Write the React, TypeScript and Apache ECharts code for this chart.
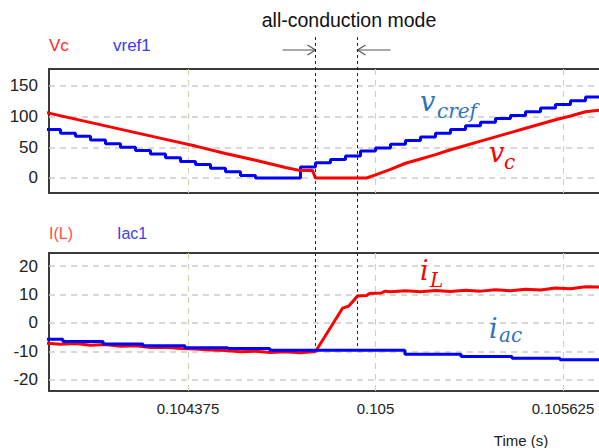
import React, { useEffect, useRef } from "react";
import * as echarts from "echarts";

// ---- axis ticks ----
const xTicks = [0.104375, 0.105, 0.105625];
const topTicks = [0, 50, 100, 150];
const bottomTicks = [-20, -10, 0, 10, 20];

// ---- top panel: Vc and vref1 ----
const vcTime = [
  0.1039, 0.104, 0.1041, 0.1042, 0.1043, 0.1044, 0.1045, 0.1046, 0.1047, 0.10475,
  0.10479, 0.1048, 0.10485, 0.1049, 0.10495, 0.10497, 0.105, 0.10505, 0.1051, 0.10515,
  0.1052, 0.10525, 0.1053, 0.10535, 0.1054, 0.10545, 0.1055, 0.10555, 0.1056, 0.10565,
  0.1057, 0.10578,
];
const vc = [
  107, 96, 85, 74, 63, 52, 40, 29, 17, 12,
  12, 0, 0, 0, 0, 0, 5, 14, 24, 31,
  38, 46, 53, 60, 67, 74, 81, 88, 95, 101,
  108, 112,
];

const vrefTime = [
  0.1039, 0.10395, 0.104, 0.10405, 0.1041, 0.10415, 0.1042, 0.10425, 0.1043, 0.10435,
  0.1044, 0.10445, 0.1045, 0.10455, 0.1046, 0.10465, 0.1047, 0.10475, 0.1048, 0.10485,
  0.1049, 0.10495, 0.105, 0.10505, 0.1051, 0.10515, 0.1052, 0.10525, 0.1053, 0.10535,
  0.1054, 0.10545, 0.1055, 0.10555, 0.1056, 0.10565, 0.1057, 0.10578,
];
const vref1 = [
  79, 73, 68, 62, 56, 50, 45, 39, 33, 27,
  22, 16, 10, 4, 0, 0, 0, 18, 25, 30,
  36, 44, 49, 55, 61, 67, 73, 79, 85, 91,
  97, 102, 108, 114, 120, 126, 132, 132,
];

// ---- bottom panel: I(L) and Iac1 ----
const ilTime = [
  0.1039, 0.10395, 0.104, 0.10405, 0.1041, 0.10415, 0.1042, 0.10425, 0.1043, 0.10435,
  0.1044, 0.10445, 0.1045, 0.10455, 0.1046, 0.10465, 0.1047, 0.10475, 0.1048, 0.10483,
  0.10486, 0.10489, 0.10491, 0.10492, 0.10494, 0.10497, 0.10498, 0.10502, 0.10503, 0.10505,
  0.1051, 0.10515, 0.1052, 0.10525, 0.1053, 0.10535, 0.1054, 0.10545, 0.1055, 0.10555,
  0.1056, 0.10565, 0.1057, 0.10578,
];
const il = [
  -7.1, -7.5, -7.2, -7.8, -7.6, -8.2, -8.0, -8.6, -8.5, -9.0,
  -9.1, -9.5, -9.7, -10.1, -9.9, -10.4, -10.1, -10.5, -10.0, -5.0,
  0.1, 5.2, 5.9, 7.0, 9.5, 9.7, 10.4, 10.5, 11.2, 11.0,
  11.3, 11.0, 11.4, 11.1, 11.5, 11.2, 11.7, 11.3, 11.9, 11.6,
  12.3, 12.0, 12.7, 12.6,
];

const iacTime = [
  0.1039, 0.103958, 0.104092, 0.104225, 0.104365, 0.104508, 0.104648, 0.105098, 0.105285,
  0.105455, 0.105615, 0.10578,
];
const iac1 = [-5.7, -6.5, -7.4, -8.0, -8.7, -9.0, -9.6, -11.0, -11.8, -12.4, -12.9, -12.9];

// ---- annotation times (mode boundaries) ----
const modeTimes = [0.1048, 0.10494];

const zip = (t: number[], v: number[]) => t.map((x, i) => [x, v[i]]);

const RED = "#ff0000";
const BLUE = "#0000ff";
const MATH_BLUE = "#2e75b6";

export default function App() {
  const ref = useRef<HTMLDivElement>(null);

  useEffect(() => {
    const chart = echarts.init(ref.current!, null, { renderer: "svg" });
    const xMin = 0.1039117;
    const xMax = 0.1057783;
    const gridCommon = {
      left: 49,
      width: 560,
      show: true,
      borderColor: "#3a3a3a",
      borderWidth: 2,
      containLabel: false,
      outerBoundsMode: "none",
    };
    const hSplit = { show: true, lineStyle: { color: "#cccccc", type: [6, 5], width: 1.5 } };
    const vSplit = { show: true, lineStyle: { color: "#c5d6b0", type: [6, 5], width: 1 } };
    const xAxisBase = (gi: number, showLabel: boolean) => ({
      type: "value",
      gridIndex: gi,
      min: xMin,
      max: xMax,
      axisLine: { show: false },
      axisTick: { show: false, customValues: xTicks },
      axisLabel: {
        show: showLabel,
        customValues: xTicks,
        formatter: (v: number) => String(+v.toFixed(6)),
        fontFamily: "Liberation Sans",
        fontSize: 15,
        color: "#222",
        margin: 10,
      },
      splitLine: vSplit,
    });
    const yAxisBase = (gi: number, min: number, max: number, ticks: number[]) => ({
      type: "value",
      gridIndex: gi,
      min,
      max,
      axisLine: { show: false },
      axisTick: { show: false, customValues: ticks },
      axisLabel: {
        customValues: ticks,
        fontFamily: "Liberation Sans",
        fontSize: 17,
        color: "#222",
        margin: 11,
      },
      splitLine: hSplit,
    });

    chart.setOption({
      animation: false,
      grid: [
        { ...gridCommon, top: 69, height: 124 },
        { ...gridCommon, top: 253, height: 138 },
      ],
      xAxis: [xAxisBase(0, false), xAxisBase(1, true)],
      yAxis: [yAxisBase(0, -24.5, 177.7, topTicks), yAxisBase(1, -23.9, 24.6, bottomTicks)],
      series: [
        {
          name: "vref1", type: "line", xAxisIndex: 0, yAxisIndex: 0, step: "end",
          data: zip(vrefTime, vref1), showSymbol: false, color: BLUE,
          lineStyle: { color: BLUE, width: 3 },
        },
        {
          name: "Vc", type: "line", xAxisIndex: 0, yAxisIndex: 0,
          data: zip(vcTime, vc), showSymbol: false, color: RED,
          lineStyle: { color: RED, width: 3 },
        },
        {
          name: "I(L)", type: "line", xAxisIndex: 1, yAxisIndex: 1,
          data: zip(ilTime, il), showSymbol: false, color: RED,
          lineStyle: { color: RED, width: 3 },
        },
        {
          name: "Iac1", type: "line", xAxisIndex: 1, yAxisIndex: 1, step: "end",
          data: zip(iacTime, iac1), showSymbol: false, color: BLUE,
          lineStyle: { color: BLUE, width: 3 },
        },
      ],
    });

    const px = modeTimes.map((t) => chart.convertToPixel({ xAxisIndex: 0 }, t) as number);
    const [xa, xb] = px;
    const dash = (x: number) => ({
      type: "line",
      shape: { x1: x, y1: 37, x2: x, y2: 350 },
      style: { stroke: "#222", lineWidth: 1, lineDash: [3, 3] },
      z: 50,
    });
    const arrowStyle = { stroke: "#555", lineWidth: 1.2, fill: "none" };
    const mathFont = (size: number) => `italic ${size}px "DejaVu Serif"`;
    const txt = (text: string, x: number, y: number, fill: string, font: string, align = "left") => ({
      type: "text",
      x,
      y,
      style: { text, fill, font, textAlign: align, textVerticalAlign: "middle" },
      z: 60,
    });

    chart.setOption({
      graphic: {
        elements: [
          txt("all-conduction mode", 349, 20, "#111", '19.5px "Liberation Sans"', "center"),
          dash(xa),
          dash(xb),
          { type: "line", shape: { x1: xa - 33, y1: 50, x2: xa, y2: 50 }, style: arrowStyle },
          { type: "polyline", shape: { points: [[xa - 8, 45], [xa, 50], [xa - 8, 55]] }, style: arrowStyle },
          { type: "line", shape: { x1: xb, y1: 50, x2: xb + 33, y2: 50 }, style: arrowStyle },
          { type: "polyline", shape: { points: [[xb + 8, 45], [xb, 50], [xb + 8, 55]] }, style: arrowStyle },
          txt("Vc", 49, 45, "#ff2a2a", '17px "Liberation Sans"'),
          txt("vref1", 113, 45, "#3b3bf0", '17px "Liberation Sans"'),
          txt("I(L)", 49, 233, "#ff4d4d", '16px "Liberation Sans"'),
          txt("Iac1", 117, 233, "#4040f0", '16px "Liberation Sans"'),
          txt("Time (s)", 521, 440, "#222", '15px "Liberation Sans"', "center"),
          txt("v", 420, 101, MATH_BLUE, mathFont(27)),
          txt("cref", 437, 111, MATH_BLUE, mathFont(20)),
          txt("v", 489, 152, RED, mathFont(27)),
          txt("c", 504, 162, RED, mathFont(20)),
          txt("i", 420, 270, RED, mathFont(27)),
          txt("L", 430, 280, RED, mathFont(20)),
          txt("i", 489, 328, MATH_BLUE, mathFont(27)),
          txt("ac", 499, 335, MATH_BLUE, mathFont(20)),
        ],
      },
    });

    return () => chart.dispose();
  }, []);

  return (
    <div
      ref={ref}
      style={{ position: "fixed", left: 0, top: 0, width: 599, height: 448, background: "#fff" }}
    />
  );
}
